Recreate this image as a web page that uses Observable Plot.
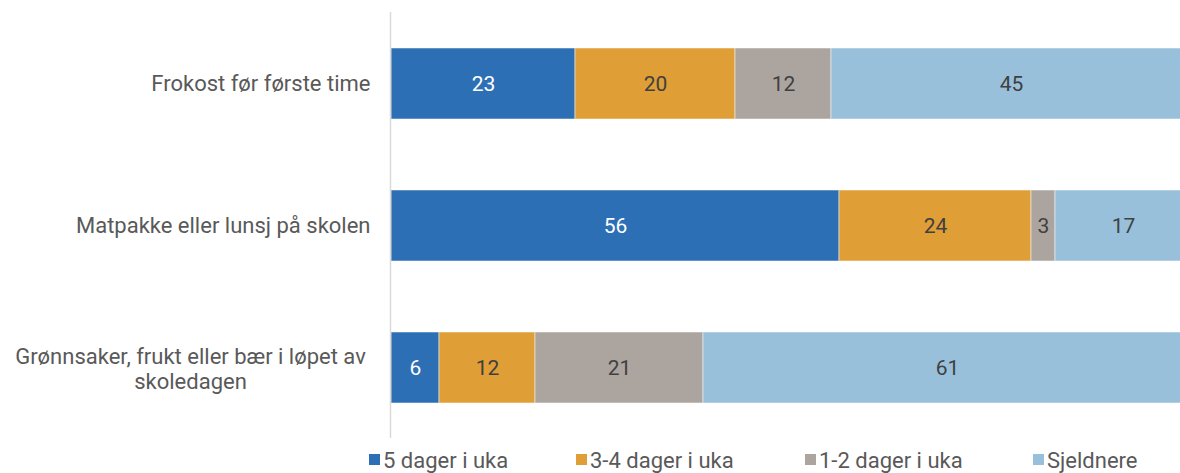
<!DOCTYPE html>
<html>
<head>
<meta charset="utf-8">
<script src="https://cdn.jsdelivr.net/npm/d3@7"></script>
<script src="https://cdn.jsdelivr.net/npm/@observablehq/plot@0.6"></script>
<style>
  body { margin: 0; background: #fff; font-family: Roboto, "Open Sans", sans-serif; }
  #wrap { position: relative; width: 1180px; height: 473px; overflow: hidden; }
  #chart svg { overflow: hidden; }
  .lg-sw { position: absolute; width: 11px; height: 11px; top: 454px; }
  .lg-tx { position: absolute; top: 449.5px; font-size: 22px; line-height: 22px; color: #595959; white-space: nowrap; }
</style>
</head>
<body>
<div id="wrap">
  <div id="chart"></div>
</div>
<script>
const categories = [
  "Frokost før første time",
  "Matpakke eller lunsj på skolen",
  "Grønnsaker, frukt eller bær i løpet av\nskoledagen"
];
const seriesNames = ["5 dager i uka", "3-4 dager i uka", "1-2 dager i uka", "Sjeldnere"];
const seriesColors = ["#2d6fb4", "#df9e36", "#aca59f", "#98c0da"];
const values5 = [23, 56, 6];
const values34 = [20, 24, 12];
const values12 = [12, 3, 21];
const valuesRare = [45, 17, 61];

const seriesValues = [values5, values34, values12, valuesRare];
const data = [];
categories.forEach((c, i) => {
  seriesNames.forEach((s, j) => {
    data.push({category: c, series: s, value: seriesValues[j][i]});
  });
});

const stackOpts = {x: "value", y: "category", fill: "series", order: seriesNames};

const plot = Plot.plot({
  width: 1180,
  height: 446,
  marginLeft: 391,
  marginRight: -11,
  marginTop: 12,
  marginBottom: 8,
  style: {fontFamily: "Roboto, 'Open Sans', sans-serif", background: "#fff", overflow: "hidden"},
  x: {domain: [0, 100], axis: null},
  y: {domain: categories, axis: null, paddingInner: 0.5, paddingOuter: 0.25},
  color: {domain: seriesNames, range: seriesColors},
  marks: [
    Plot.barX(data, Plot.stackX({...stackOpts, stroke: "#fff", strokeOpacity: 0.5, strokeWidth: 1})),
    Plot.text(data, Plot.stackX({
      ...stackOpts,
      text: d => String(d.value),
      fill: d => d.series === "5 dager i uka" ? "#ffffff" : "#404040",
      fontSize: 21
    })),
    Plot.ruleX([0], {stroke: "#d9d9d9", strokeWidth: 1.5, dx: -1}),
    Plot.text(categories.slice(0, 2), {
      y: d => d, text: d => d, frameAnchor: "left", textAnchor: "end",
      dx: -21, fontSize: 22, fill: "#595959"
    }),
    Plot.text(categories.slice(2), {
      y: d => d, text: d => d, frameAnchor: "left", textAnchor: "middle",
      dx: -201, fontSize: 22, fill: "#595959", lineHeight: 1.14
    })
  ]
});
document.getElementById("chart").appendChild(plot);

// legend below the plot
const legendLeft = [369, 576, 805, 1033];
const wrap = document.getElementById("wrap");
seriesNames.forEach((s, j) => {
  const sw = document.createElement("div");
  sw.className = "lg-sw";
  sw.style.left = legendLeft[j] + "px";
  sw.style.background = seriesColors[j];
  const t = document.createElement("div");
  t.className = "lg-tx";
  t.style.left = (legendLeft[j] + 14) + "px";
  t.textContent = s;
  wrap.appendChild(sw);
  wrap.appendChild(t);
});
</script>
</body>
</html>
